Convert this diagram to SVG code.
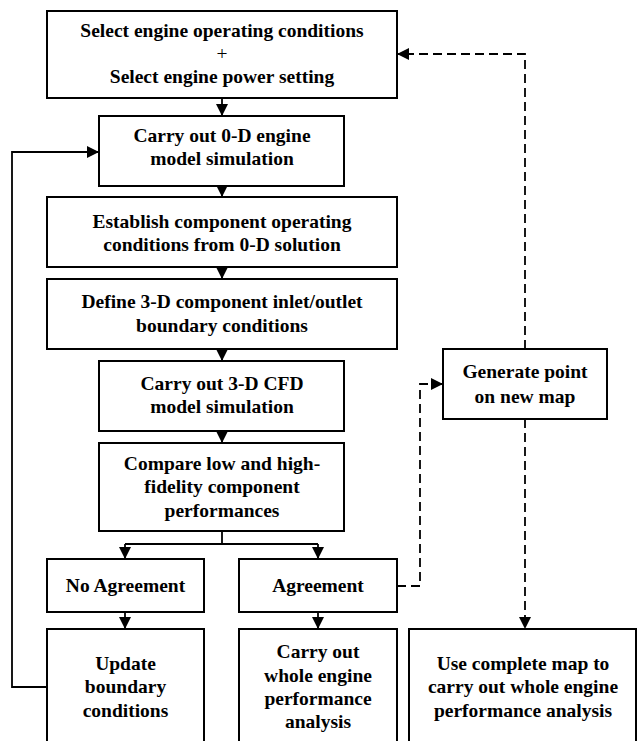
<svg xmlns="http://www.w3.org/2000/svg" width="638" height="741" viewBox="0 0 638 741">
<style>
.box{fill:#fff;stroke:#000;stroke-width:2}
.t{font-family:"Liberation Serif","Times New Roman",serif;font-weight:bold;font-size:19.5px;text-anchor:middle;fill:#000}
.p{font-weight:normal}
.ln{fill:none;stroke:#000;stroke-width:1.8}
.dl{fill:none;stroke:#000;stroke-width:1.8;stroke-dasharray:9 5}
</style>
<defs>
<marker id="ah" markerUnits="userSpaceOnUse" markerWidth="12" markerHeight="12" viewBox="0 0 12 12" refX="12" refY="6" orient="auto">
<path d="M0,0 L12,6 L0,12 Z" fill="#000"/>
</marker>
</defs>
<rect width="638" height="741" fill="#fff"/>
<g id="connectors">
<path class="ln" d="M222,98 V116" marker-end="url(#ah)"/>
<path class="ln" d="M222,186 V197" marker-end="url(#ah)"/>
<path class="ln" d="M222,267 V279" marker-end="url(#ah)"/>
<path class="ln" d="M222,349 V361" marker-end="url(#ah)"/>
<path class="ln" d="M222,431 V443" marker-end="url(#ah)"/>
<path class="ln" d="M222,531 V544 M125,544 H318"/>
<path class="ln" d="M125,544 V559" marker-end="url(#ah)"/>
<path class="ln" d="M318,544 V559" marker-end="url(#ah)"/>
<path class="ln" d="M125,612 V629" marker-end="url(#ah)"/>
<path class="ln" d="M318,612 V629" marker-end="url(#ah)"/>
<path class="ln" d="M47,687 H12 V152 H99" marker-end="url(#ah)"/>
<path class="dl" d="M397,586 H420 V384 H443" marker-end="url(#ah)"/>
<path class="dl" d="M525,349 V54 H397" marker-end="url(#ah)"/>
<path class="dl" d="M525,419 V629" marker-end="url(#ah)"/>
</g>
<g id="n1"><rect class="box" x="47" y="11" width="350" height="87"/>
<text class="t" x="222" y="37">Select engine operating conditions</text>
<text class="t p" x="222" y="60">+</text>
<text class="t" x="222" y="83">Select engine power setting</text></g>
<g id="n2"><rect class="box" x="99" y="116" width="245" height="70"/>
<text class="t" x="222" y="142">Carry out 0-D engine</text>
<text class="t" x="222" y="165">model simulation</text></g>
<g id="n3"><rect class="box" x="47" y="197" width="350" height="70"/>
<text class="t" x="222" y="228">Establish component operating</text>
<text class="t" x="222" y="251">conditions from 0-D solution</text></g>
<g id="n4"><rect class="box" x="47" y="279" width="350" height="70"/>
<text class="t" x="222" y="308">Define 3-D component inlet/outlet</text>
<text class="t" x="222" y="332">boundary conditions</text></g>
<g id="n5"><rect class="box" x="99" y="361" width="245" height="70"/>
<text class="t" x="222" y="390">Carry out 3-D CFD</text>
<text class="t" x="222" y="413">model simulation</text></g>
<g id="n6"><rect class="box" x="99" y="443" width="245" height="88"/>
<text class="t" x="222" y="470">Compare low and high-</text>
<text class="t" x="222" y="493">fidelity component</text>
<text class="t" x="222" y="517">performances</text></g>
<g id="n7"><rect class="box" x="47" y="559" width="157" height="53"/>
<text class="t" x="125.5" y="592">No Agreement</text></g>
<g id="n8"><rect class="box" x="239" y="559" width="158" height="53"/>
<text class="t" x="318" y="592">Agreement</text></g>
<g id="n9"><rect class="box" x="47" y="629" width="157" height="130"/>
<text class="t" x="125.5" y="670">Update</text>
<text class="t" x="125.5" y="693">boundary</text>
<text class="t" x="125.5" y="717">conditions</text></g>
<g id="n10"><rect class="box" x="239" y="629" width="158" height="130"/>
<text class="t" x="318" y="658">Carry out</text>
<text class="t" x="318" y="682">whole engine</text>
<text class="t" x="318" y="705">performance</text>
<text class="t" x="318" y="728">analysis</text></g>
<g id="n11"><rect class="box" x="409" y="629" width="227" height="130"/>
<text class="t" x="523" y="670">Use complete map to</text>
<text class="t" x="523" y="693">carry out whole engine</text>
<text class="t" x="523" y="717">performance analysis</text></g>
<g id="n12"><rect class="box" x="443" y="349" width="164" height="70"/>
<text class="t" x="525" y="378">Generate point</text>
<text class="t" x="525" y="403">on new map</text></g>
</svg>
